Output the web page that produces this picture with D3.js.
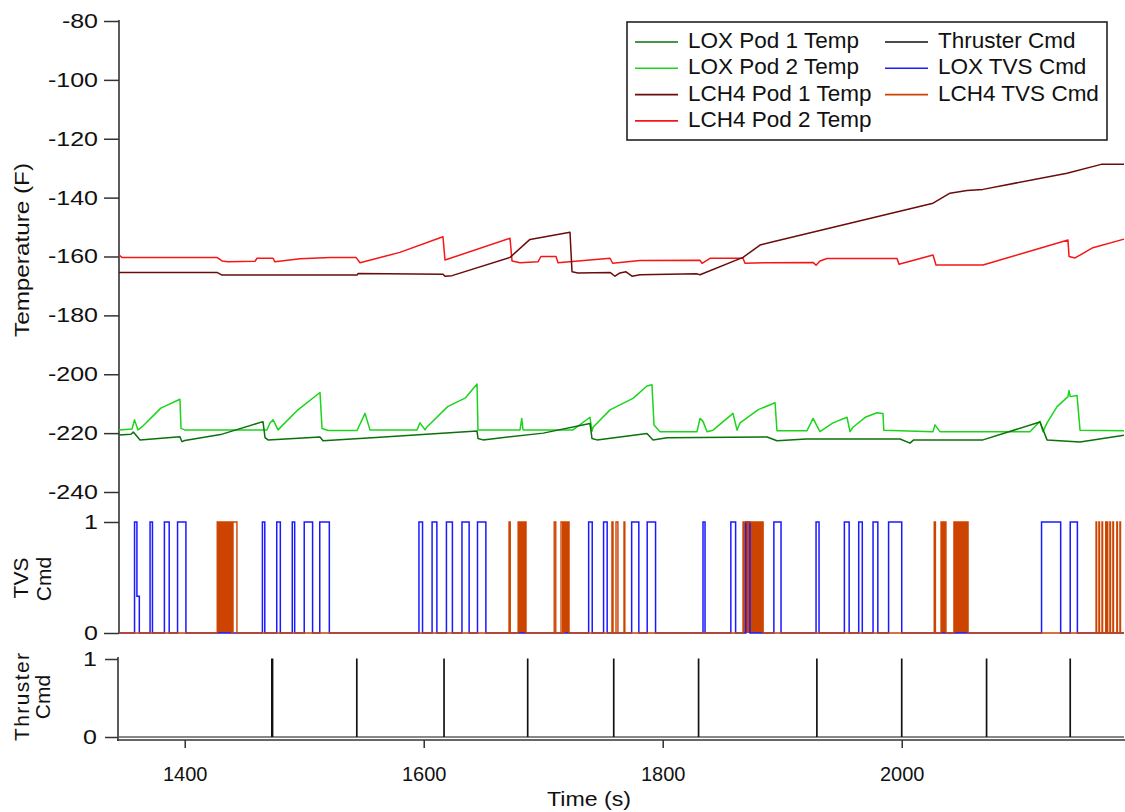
<!DOCTYPE html>
<html>
<head>
<meta charset="utf-8">
<script src="https://cdn.jsdelivr.net/npm/d3@7"></script>
<style>
  body { margin: 0; background: #fff; }
  svg text { font-family: "Liberation Sans", Arial, sans-serif; fill: #111; }
</style>
</head>
<body>
<svg id="chart" width="1125" height="812"></svg>
<script>
"use strict";

// ---- data ----
const timeDomain = [1345, 2186];
const timeTicks = [1400, 1600, 1800, 2000];
const tempTicks = [-80, -100, -120, -140, -160, -180, -200, -220, -240];

// [time (s), temperature (F)]
const loxPod1 = [[1345,-220.6],[1355,-220.4],[1357,-219.6],[1362.6,-222.3],[1396,-221.2],[1397.7,-222.9],[1400,-222.5],
  [1430,-220.5],[1465.5,-216.1],[1467.2,-221.5],[1469.7,-222.3],[1513.2,-221.3],[1515.7,-222.6],[1560,-221.5],
  [1644.6,-219.3],[1645.4,-221.8],[1649.6,-222.3],[1700,-220],[1739.1,-216.7],[1740.8,-221.8],[1745,-222.3],
  [1786.8,-220.1],[1791.9,-222.3],[1803.6,-221.6],[1887.3,-221.3],[1895.6,-222.6],[1920,-222],[1998.6,-222],
  [2006.9,-223.4],[2010,-222.3],[2068,-222.3],[2115.7,-216.2],[2121.6,-222.3],[2149.2,-223],[2186,-220.7]];

const loxPod2 = [[1345,-218.9],[1355.9,-218.6],[1358,-215.5],[1360.9,-218.9],[1364.2,-217.9],[1380,-211.5],[1396,-208.5],
  [1396.9,-218.4],[1400,-218.9],[1468.8,-218.9],[1471.4,-216.5],[1474,-215.5],[1478.1,-218.9],[1482.2,-217.2],
  [1495,-212],[1513.2,-206.2],[1514.9,-218.4],[1520,-219.1],[1544.2,-219.1],[1550.9,-213.3],[1555,-218.9],
  [1594.4,-218.9],[1596.9,-216.5],[1601.1,-218.9],[1602.7,-217.9],[1620,-211],[1635,-208],[1644.6,-203.3],
  [1645.4,-218.9],[1680.6,-218.9],[1682,-215],[1683.1,-218.9],[1724.9,-218.9],[1739.1,-214.6],[1740.8,-219.4],
  [1741.7,-218],[1755.9,-212.1],[1775.1,-208.2],[1786.8,-204],[1791,-203.6],[1792.7,-217.2],[1797.7,-219.5],
  [1828.7,-219.5],[1831.2,-215],[1833.7,-216],[1837.1,-219.5],[1842.1,-219],[1858.8,-213.3],[1862.2,-219],
  [1864.7,-216.5],[1880,-212],[1894,-209.7],[1895.6,-219.2],[1920.7,-219.2],[1925.8,-215],[1931.6,-219.5],
  [1942.5,-216.5],[1954.2,-214.6],[1956.7,-219.5],[1959.2,-218],[1970,-214.5],[1979.3,-213.1],[1984.3,-213.3],
  [1985,-219],[2026.2,-219.5],[2027.8,-217.2],[2032,-219.5],[2107.3,-219.5],[2115.7,-216],[2118.2,-219.5],
  [2121.6,-216.5],[2130,-211],[2139.1,-207.6],[2140,-205.5],[2141,-207.6],[2146.7,-207.2],[2149.2,-219],[2186,-219.2]];

const lch4Pod1 = [[1345,-165.4],[1427,-165.4],[1431.2,-166.3],[1544.2,-166.3],[1545,-165.8],[1616.1,-166.0],
  [1617.8,-166.7],[1623.7,-166.5],[1672.2,-160.3],[1688.9,-154.2],[1722.4,-151.8],[1724.1,-165.2],[1729.1,-165.6],
  [1755.9,-165.4],[1760.1,-166.7],[1764.2,-165.6],[1769.3,-165.2],[1774.3,-166.7],[1781,-166.2],[1828.7,-165.9],
  [1831.2,-166.2],[1867.2,-160.3],[1881.4,-156.1],[1892.3,-155.0],[2026.2,-141.9],[2040.4,-138.5],[2054.6,-137.6],
  [2068,-137.2],[2138.3,-131.7],[2166.9,-128.7],[2186,-128.7]];

const lch4Pod2 = [[1345,-159.5],[1347.5,-160.3],[1427,-160.3],[1431.2,-161.5],[1436.2,-161.8],[1458.8,-161.6],
  [1460.5,-160.6],[1473.9,-160.6],[1475.5,-161.8],[1496.5,-160.8],[1521.6,-160.3],[1543.3,-160.3],[1546.7,-162.1],
  [1580,-158.6],[1616.1,-153.3],[1617.8,-161.2],[1672.2,-153.8],[1673.9,-161.5],[1680.6,-162.1],[1695.6,-161.8],
  [1698.1,-160.0],[1710.7,-160.0],[1712.4,-162.1],[1755.9,-160.6],[1758.1,-162.3],[1781,-161.4],[1831.2,-161.3],
  [1832.9,-162.3],[1839.6,-160.6],[1867.2,-160.6],[1868.8,-162.3],[1887.3,-162.1],[1925.8,-162.0],[1928.3,-163.0],
  [1931.6,-161.5],[1937.5,-160.7],[1996.1,-160.7],[1997.7,-162.6],[2026.2,-159.5],[2028.7,-162.9],[2068,-162.9],
  [2139.1,-154.4],[2140,-160.0],[2145,-160.5],[2160,-157.0],[2186,-154.1]];

// valve / thruster pulses: [start, end, level]
const loxTvsPulses = [[1358,1360,1],[1360,1362,0.33],[1371,1373,1],[1383,1387,1],[1394,1401,1],[1465,1467,1],
  [1477,1480,1],[1490,1492,1],[1500,1507,1],[1513,1521,1],[1596,1599,1],[1607,1611,1],[1619,1624,1],[1632,1638,1],
  [1645,1652,1],[1738,1741,1],[1750.5,1753.5,1],[1774,1780,1],[1787,1794,1],[1833.7,1835.4,1],[1857,1861,1],
  [1869.5,1873,1],[1893,1899,1],[1928.3,1930.8,1],[1952,1956,1],[1964,1967,1],[1976,1980,1],[1989,2000,1],
  [2117,2133,1],[2141,2147,1]];

const lch4TvsPulses = [[1440.4,1443.7,1],[1671.4,1672.4,1],[1709.2,1710.5,1],[1714.9,1716.3,1],[1757.5,1758.4,1],
  [1760.9,1762.5,1],[1767.6,1768.3,1],[2027.2,2028.2,1],[2162.6,2163.1,1],[2165,2165.5,1],[2167.6,2168.1,1],
  [2170.7,2171.2,1],[2171.9,2172.4,1],[2174.2,2174.7,1],[2176.7,2177.2,1],[2180,2180.5,1],[2182.6,2183.1,1]];

// stretches where the LCH4 valve cycled too fast to resolve
const lch4TvsBursts = [[1427.2,1439.3],[1679,1685.6],[1717.4,1721.6],[1867.2,1884],[2032.9,2037],[2043.7,2055.5]];

const thrusterPulses = [[1472.7,1473.7,1],[1543.8,1544.2,1],[1616.8,1617.2,1],[1686.8,1687.2,1],[1758.8,1759.2,1],
  [1829.8,1830.2,1],[1928.8,1929.2,1],[1999.8,2000.2,1],[2070.8,2071.2,1],[2140.8,2141.2,1]];

const seriesNames = ["LOX Pod 1 Temp", "LOX Pod 2 Temp", "LCH4 Pod 1 Temp", "LCH4 Pod 2 Temp",
  "Thruster Cmd", "LOX TVS Cmd", "LCH4 TVS Cmd"];
const seriesColors = ["#0c700c", "#1bd41b", "#6a0c0c", "#f51616", "#111111", "#1a1aff", "#cc4400"];

// ---- scales ----
const svg = d3.select("#chart");
const x = d3.scaleLinear().domain(timeDomain).range([119, 1124]);
const yTemp = d3.scaleLinear().domain([-240, -80]).range([492, 21]);
const yTvs = d3.scaleLinear().domain([0, 1]).range([633, 522]);
const yThr = d3.scaleLinear().domain([0, 1]).range([737, 659]);

const plainNum = d => String(d); // hyphen-minus, no thousands separator

function stretchLabels(sel, factor) {
  sel.selectAll("text").each(function() {
    const w = this.getComputedTextLength();
    d3.select(this).attr("textLength", w * factor).attr("lengthAdjust", "spacingAndGlyphs");
  });
}

// ---- axes ----
const axisColor = "#333";
const gTemp = svg.append("g").attr("transform", "translate(119,0)")
  .call(d3.axisLeft(yTemp).tickValues(tempTicks).tickSize(15).tickPadding(6).tickSizeOuter(0).tickFormat(plainNum));
const gTvs = svg.append("g").attr("transform", "translate(119,0)")
  .call(d3.axisLeft(yTvs).tickValues([0, 1]).tickSize(15).tickPadding(6).tickSizeOuter(0).tickFormat(plainNum));
const gThr = svg.append("g").attr("transform", "translate(118,0)")
  .call(d3.axisLeft(yThr).tickValues([0, 1]).tickSize(13).tickPadding(8).tickSizeOuter(0).tickFormat(plainNum));
const gX = svg.append("g").attr("transform", "translate(0,740)")
  .call(d3.axisBottom(x).tickValues(timeTicks).tickSize(8).tickPadding(19).tickSizeOuter(0).tickFormat(plainNum));

[gTemp, gTvs, gThr, gX].forEach(g => {
  g.select(".domain").remove();
  g.selectAll("line").attr("stroke", axisColor).attr("stroke-width", 1.5);
  g.selectAll("text").style("font-size", "20px").attr("fill", "#111");
});
[gTemp, gTvs, gThr].forEach(g => stretchLabels(g, 1.25));

// axis spines
svg.append("line").attr("x1", 119).attr("x2", 119).attr("y1", yTemp(-80) - 1).attr("y2", yTvs(0))
  .attr("stroke", axisColor).attr("stroke-width", 1.6);
svg.append("line").attr("x1", 118).attr("x2", 118).attr("y1", yThr(1) - 2).attr("y2", 741)
  .attr("stroke", axisColor).attr("stroke-width", 1.6);
svg.append("line").attr("x1", 117).attr("x2", 1125).attr("y1", 740).attr("y2", 740)
  .attr("stroke", axisColor).attr("stroke-width", 1.4);

// ---- axis titles ----
svg.append("text").attr("transform", "translate(29,250) rotate(-90)")
  .attr("text-anchor", "middle").style("font-size", "21px")
  .attr("textLength", 174).attr("lengthAdjust", "spacingAndGlyphs").text("Temperature (F)");
svg.append("text").attr("transform", "translate(28,578) rotate(-90)")
  .attr("text-anchor", "middle").style("font-size", "21px").text("TVS");
svg.append("text").attr("transform", "translate(51,579) rotate(-90)")
  .attr("text-anchor", "middle").style("font-size", "21px").text("Cmd");
svg.append("text").attr("transform", "translate(29,697) rotate(-90)")
  .attr("text-anchor", "middle").style("font-size", "21px")
  .attr("textLength", 88).attr("lengthAdjust", "spacing").text("Thruster");
svg.append("text").attr("transform", "translate(50,697) rotate(-90)")
  .attr("text-anchor", "middle").style("font-size", "21px").text("Cmd");
svg.append("text").attr("x", 589).attr("y", 806).attr("text-anchor", "middle")
  .style("font-size", "20px").attr("textLength", 84).attr("lengthAdjust", "spacingAndGlyphs").text("Time (s)");

// ---- temperature lines ----
const tempLine = d3.line().x(d => x(d[0])).y(d => yTemp(d[1]));
[[lch4Pod2, 3], [lch4Pod1, 2], [loxPod2, 1], [loxPod1, 0]].forEach(([data, i]) => {
  svg.append("path").datum(data).attr("d", tempLine)
    .attr("fill", "none").attr("stroke", seriesColors[i]).attr("stroke-width", 1.5)
    .attr("stroke-linejoin", "round");
});

// ---- pulse panels ----
function pulsePoints(pulses) {
  const pts = [[timeDomain[0], 0]];
  const sorted = pulses.slice().sort((a, b) => a[0] - b[0]);
  sorted.forEach((p, i) => {
    pts.push([p[0], p[2]]);
    const next = sorted[i + 1];
    if (!next || next[0] > p[1]) pts.push([p[1], 0]);
  });
  pts.push([timeDomain[1], 0]);
  return pts;
}

const tvsLine = d3.line().curve(d3.curveStepAfter).x(d => x(d[0])).y(d => yTvs(d[1]));
const thrLine = d3.line().curve(d3.curveStepAfter).x(d => x(d[0])).y(d => yThr(d[1]));
const burstArea = d3.area().x(d => x(d)).y0(yTvs(0)).y1(yTvs(1));

svg.selectAll(".burst").data(lch4TvsBursts).enter().append("path")
  .attr("class", "burst").attr("d", d => burstArea(d)).attr("fill", seriesColors[6]);

svg.append("path").datum(pulsePoints(loxTvsPulses)).attr("d", tvsLine)
  .attr("fill", "none").attr("stroke", seriesColors[5]).attr("stroke-width", 1.5);

const lch4All = lch4TvsPulses.concat(lch4TvsBursts.map(b => [b[0], b[1], 1]));
svg.append("path").datum(pulsePoints(lch4All)).attr("d", tvsLine)
  .attr("fill", "none").attr("stroke", seriesColors[6]).attr("stroke-width", 1.4);

svg.append("path").datum(pulsePoints(thrusterPulses)).attr("d", thrLine)
  .attr("fill", "none").attr("stroke", seriesColors[4]).attr("stroke-width", 1.2);

// ---- legend ----
const legend = svg.append("g").attr("transform", "translate(627,22)");
legend.append("rect").attr("width", 480).attr("height", 118)
  .attr("fill", "#fff").attr("stroke", "#222").attr("stroke-width", 1.6);
const items = legend.selectAll(".item").data(seriesNames).enter().append("g")
  .attr("class", "item")
  .attr("transform", (d, i) => `translate(${i < 4 ? 8 : 258},${26 + (i < 4 ? i : i - 4) * 26.3})`);
items.append("line").attr("x1", 0).attr("x2", 43).attr("y1", -6).attr("y2", -6)
  .attr("stroke", (d, i) => seriesColors[i]).attr("stroke-width", 1.6);
items.append("text").attr("x", 53).attr("y", 0).style("font-size", "22.5px").text(d => d);
</script>
</body>
</html>
